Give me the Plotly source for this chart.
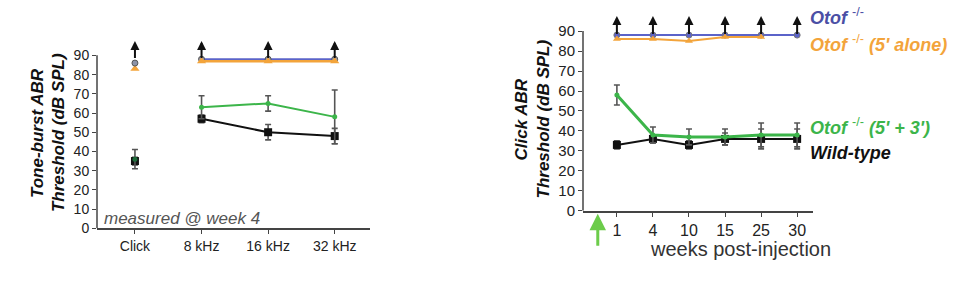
import plotly.graph_objects as go

# ---------------- data ----------------
# Left panel (tone-burst, measured at week 4)
left_cats = ["Click", "8 kHz", "16 kHz", "32 kHz"]
freq_cats = ["8 kHz", "16 kHz", "32 kHz"]

wt_click, wt_click_err = 35, 2
green_click, green_click_err = 36, 5
orange_click = 83
blue_click = 86

wt_freq = [57, 50, 48]
wt_freq_err = [2, 4, 4]
green_freq = [63, 65, 58]
green_freq_err = [6, 4, 14]
blue_freq = [88, 88, 88]
orange_freq = [87, 87, 87]

# Right panel (click ABR over time)
weeks = ["1", "4", "10", "15", "25", "30"]
blue_weeks = [88, 88, 88, 88, 88, 88]
orange_weeks = [86, 86, 85, 87, 87]
green_weeks = [58, 38, 37, 37, 38, 38]
green_weeks_err = [5, 4, 4, 4, 6, 6]
wt_weeks = [33, 36, 33, 36, 36, 36]
wt_weeks_err = [2, 2, 2, 3, 5, 5]

arrow_value = 97.5
y_ticks = [0, 10, 20, 30, 40, 50, 60, 70, 80, 90]
y_top = 98.5

# ---------------- styles ----------------
BLUE = "#5b63c9"
BLUE_TXT = "#4b4fa5"
ORANGE = "#f3a43b"
GREEN = "#3cb54a"
BLACK = "#111111"
ERR = "#555555"
AX = "#444444"
FONT = "Liberation Sans, Arial, Helvetica, sans-serif"

lpos = {c: i for i, c in enumerate(left_cats)}
wpos = list(range(len(weeks)))

fig = go.Figure()


def err(vals):
    return dict(type="data", array=vals, color=ERR, thickness=1.6, width=3)


# ---- left panel ----
fx = [lpos[c] for c in freq_cats]
fig.add_trace(go.Scatter(x=fx, y=blue_freq, mode="lines+markers", xaxis="x", yaxis="y",
                         line=dict(color=BLUE, width=2),
                         marker=dict(symbol="circle", size=6, color="#9a9aa8", line=dict(color="#555", width=1)),
                         cliponaxis=False))
fig.add_trace(go.Scatter(x=fx, y=orange_freq, mode="lines+markers", xaxis="x", yaxis="y",
                         line=dict(color=ORANGE, width=2.5),
                         marker=dict(symbol="triangle-up", size=8, color=ORANGE),
                         cliponaxis=False))
fig.add_trace(go.Scatter(x=fx, y=wt_freq, mode="lines+markers", xaxis="x", yaxis="y",
                         line=dict(color=BLACK, width=2),
                         marker=dict(symbol="square", size=8, color=BLACK),
                         error_y=err(wt_freq_err), cliponaxis=False))
fig.add_trace(go.Scatter(x=fx, y=green_freq, mode="lines+markers", xaxis="x", yaxis="y",
                         line=dict(color=GREEN, width=2),
                         marker=dict(symbol="circle", size=5, color=GREEN),
                         error_y=err(green_freq_err), cliponaxis=False))
# click column
cx = lpos["Click"]
fig.add_trace(go.Scatter(x=[cx], y=[orange_click], mode="markers", xaxis="x", yaxis="y",
                         marker=dict(symbol="triangle-up", size=8, color=ORANGE), cliponaxis=False))
fig.add_trace(go.Scatter(x=[cx], y=[blue_click], mode="markers", xaxis="x", yaxis="y",
                         marker=dict(symbol="circle", size=6, color="#8c93a8", line=dict(color="#555", width=1)),
                         cliponaxis=False))
fig.add_trace(go.Scatter(x=[cx], y=[wt_click], mode="markers", xaxis="x", yaxis="y",
                         marker=dict(symbol="square", size=8, color=BLACK),
                         error_y=err([wt_click_err]), cliponaxis=False))
fig.add_trace(go.Scatter(x=[cx], y=[green_click], mode="markers", xaxis="x", yaxis="y",
                         marker=dict(symbol="circle", size=5, color="#1d6b3a"),
                         error_y=err([green_click_err]), cliponaxis=False))

# ---- right panel ----
fig.add_trace(go.Scatter(x=wpos, y=blue_weeks, mode="lines+markers", xaxis="x2", yaxis="y2",
                         line=dict(color=BLUE, width=2),
                         marker=dict(symbol="circle", size=6, color=BLUE, line=dict(color="#777", width=1)),
                         cliponaxis=False))
fig.add_trace(go.Scatter(x=wpos[:len(orange_weeks)], y=orange_weeks, mode="lines+markers", xaxis="x2", yaxis="y2",
                         line=dict(color=ORANGE, width=2),
                         marker=dict(symbol="triangle-up", size=7, color=ORANGE),
                         cliponaxis=False))
fig.add_trace(go.Scatter(x=wpos, y=wt_weeks, mode="lines+markers", xaxis="x2", yaxis="y2",
                         line=dict(color=BLACK, width=2),
                         marker=dict(symbol="square", size=8, color=BLACK),
                         error_y=err(wt_weeks_err), cliponaxis=False))
fig.add_trace(go.Scatter(x=wpos, y=green_weeks, mode="lines+markers", xaxis="x2", yaxis="y2",
                         line=dict(color=GREEN, width=3),
                         marker=dict(symbol="circle", size=5, color=GREEN),
                         error_y=err(green_weeks_err), cliponaxis=False))

annotations = []
tiny = dict(size=1, color="rgba(0,0,0,0)")
# up arrows (threshold above max)
for c in left_cats:
    annotations.append(dict(x=lpos[c], y=arrow_value, xref="x", yref="y", text=" ", font=tiny, showarrow=True,
                            ax=0, ay=19, arrowhead=2, arrowsize=0.9, arrowwidth=2, arrowcolor=BLACK))
for p in wpos:
    annotations.append(dict(x=p, y=arrow_value, xref="x2", yref="y2", text=" ", font=tiny, showarrow=True,
                            ax=0, ay=20, arrowhead=2, arrowsize=0.9, arrowwidth=2, arrowcolor=BLACK))
# injection arrow
annotations.append(dict(x=-0.53, y=1 - 220 / 281, xref="x2", yref="paper", text=" ", font=tiny, showarrow=True,
                        ax=0, ay=34, arrowhead=2, arrowsize=1.1, arrowwidth=3, arrowcolor="#6ccc4a"))


def label(x, y, text, font, angle=0, xanchor="center"):
    return dict(x=x / 971, y=1 - y / 281, xref="paper", yref="paper", text=text, textangle=angle,
                showarrow=False, font=font, xanchor=xanchor, yanchor="middle")


# y titles
title_font = dict(family=FONT, size=17, color="#111")
annotations += [
    label(37, 137, "<b><i>Tone-burst ABR</i></b>", title_font, -90),
    label(58, 137, "<b><i>Threshold (dB SPL)</i></b>", title_font, -90),
    label(521, 123, "<b><i>Click ABR</i></b>", title_font, -90),
    label(543, 123, "<b><i>Threshold (dB SPL)</i></b>", title_font, -90),
]
annotations.append(label(102, 225, "<i>measured @ week 4</i>", dict(family=FONT, size=17, color="#555"),
                         xanchor="left"))
annotations.append(label(740, 256, "weeks post-injection", dict(family=FONT, size=20, color="#333")))
# legend labels
leg = [
    ("<b><i>Otof</i></b> <sup>-/-</sup>", BLUE_TXT, 17),
    ("<b><i>Otof</i></b> <sup>-/-</sup> <b><i>(5' alone)</i></b>", ORANGE, 45),
    ("<b><i>Otof</i></b> <sup>-/-</sup> <b><i>(5' + 3')</i></b>", GREEN, 130),
    ("<b><i>Wild-type</i></b>", BLACK, 157),
]
for t, col, py in leg:
    annotations.append(label(808, py, t, dict(family=FONT, size=18, color=col), xanchor="left"))

# y-axis lines that stop at the top tick
shapes = [
    dict(type="line", xref="x domain", yref="y", x0=0, x1=0, y0=y_ticks[0], y1=y_ticks[-1],
         line=dict(color=AX, width=1.5)),
    dict(type="line", xref="x2 domain", yref="y2", x0=0, x1=0, y0=y_ticks[0], y1=y_ticks[-1],
         line=dict(color=AX, width=1.5)),
]

xaxis_common = dict(showline=True, linecolor=AX, linewidth=1.5, ticks="outside", ticklen=4,
                    tickcolor=AX, tickwidth=1.2, showgrid=False, zeroline=False)
yaxis_common = dict(showline=False, ticks="outside", ticklen=4,
                    tickcolor=AX, tickwidth=1.2, showgrid=False, zeroline=False)

# pixel layout: left y 0 at 235px, 90 at 57px; right y 0 at 217px, 90 at 32px
l_scale = (235 - 57) / 90
r_scale = (217 - 32) / 90
fig.update_layout(
    width=971, height=281, margin=dict(l=0, r=0, t=0, b=0),
    paper_bgcolor="white", plot_bgcolor="white", showlegend=False,
    font=dict(family=FONT, color="#333"),
    shapes=shapes,
    xaxis=dict(domain=[97 / 971, 370 / 971], range=[-0.57, 3.53], tickvals=list(range(len(left_cats))),
               ticktext=left_cats, tickfont=dict(size=14, color="#222"), anchor="y", **xaxis_common),
    yaxis=dict(domain=[1 - 235 / 281, 1 - (235 - y_top * l_scale) / 281], range=[0, y_top], tickvals=y_ticks,
               tickfont=dict(size=14, color="#222"), anchor="x", **yaxis_common),
    xaxis2=dict(domain=[583 / 971, 813 / 971], range=[-0.94, 5.44], tickvals=wpos, ticktext=weeks,
                tickfont=dict(size=16, color="#222"), anchor="y2", **xaxis_common),
    yaxis2=dict(domain=[1 - 217 / 281, 1 - (217 - y_top * r_scale) / 281], range=[0, y_top], tickvals=y_ticks,
                tickfont=dict(size=15, color="#222"), anchor="x2", **yaxis_common),
    annotations=annotations,
)

fig.write_html("out.html")
